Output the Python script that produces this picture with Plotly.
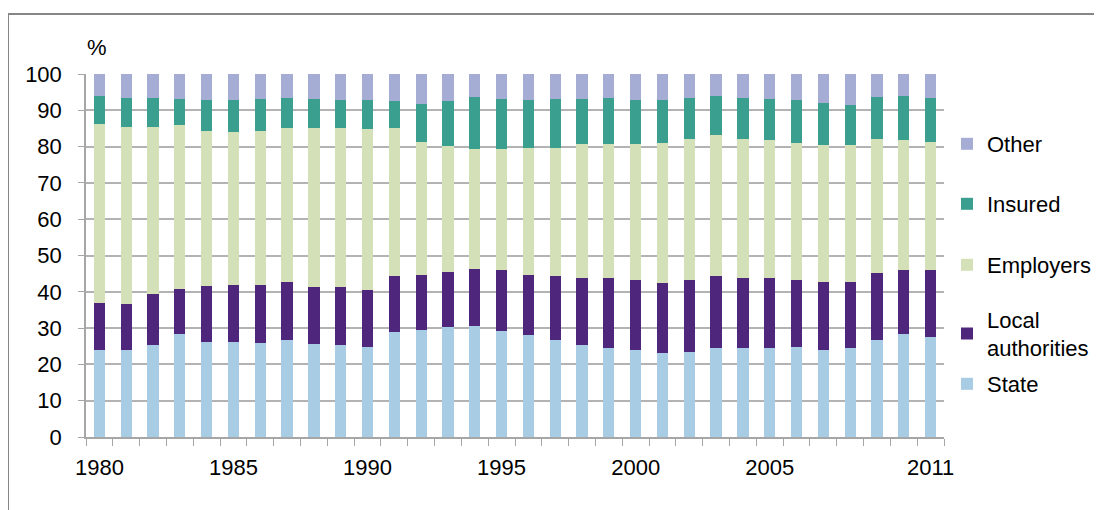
import plotly.graph_objects as go

years = [str(y) for y in range(1980, 2012)]
tick_labels = {"1980": "1980", "1985": "1985", "1990": "1990", "1995": "1995",
               "2000": "2000", "2005": "2005", "2011": "2011"}

state = [23.9, 23.9, 25.4, 28.5, 26.3, 26.3, 26.0, 26.6, 25.7, 25.4,
         24.8, 28.8, 29.4, 30.4, 30.6, 29.1, 28.2, 26.6, 25.4, 24.5,
         23.9, 23.2, 23.5, 24.5, 24.5, 24.5, 24.8, 24.1, 24.5, 26.6,
         28.5, 27.6]
local_authorities = [13.0, 12.7, 14.0, 12.4, 15.3, 15.5, 15.8, 16.2, 15.5, 15.8,
                     15.8, 15.5, 15.2, 15.1, 15.8, 16.8, 16.4, 17.7, 18.3, 19.2,
                     19.4, 19.2, 19.8, 19.8, 19.4, 19.2, 18.5, 18.7, 18.3, 18.7,
                     17.6, 18.5]
employers = [49.3, 48.7, 45.9, 45.1, 42.8, 42.3, 42.6, 42.2, 43.8, 43.8,
             44.2, 40.7, 36.7, 34.6, 33.0, 33.5, 35.1, 35.4, 36.9, 36.9,
             37.3, 38.6, 38.9, 38.8, 38.3, 38.0, 37.7, 37.6, 37.6, 36.9,
             35.6, 35.2]
insured = [7.8, 8.1, 8.1, 7.1, 8.4, 8.7, 8.7, 8.4, 8.1, 7.8,
           8.0, 7.5, 10.5, 12.4, 14.3, 13.7, 13.1, 13.4, 12.5, 12.8,
           12.2, 11.8, 11.2, 10.9, 11.2, 11.4, 11.8, 11.7, 11.1, 11.5,
           12.3, 12.1]
other = [6.0, 6.6, 6.6, 6.9, 7.2, 7.2, 6.9, 6.6, 6.9, 7.2,
         7.2, 7.5, 8.2, 7.5, 6.3, 6.9, 7.2, 6.9, 6.9, 6.6,
         7.2, 7.2, 6.6, 6.0, 6.6, 6.9, 7.2, 7.9, 8.5, 6.3,
         6.0, 6.6]

series = [
    ("State", state, "#a8cce3", "legend5"),
    ("Local<br>authorities", local_authorities, "#4e277c", "legend4"),
    ("Employers", employers, "#d4e1b8", "legend3"),
    ("Insured", insured, "#3a9f8f", "legend2"),
    ("Other", other, "#a6add5", "legend"),
]

FONT = "Liberation Sans, Arial, sans-serif"
fig = go.Figure()
for name, vals, color, lg in series:
    fig.add_trace(go.Bar(x=years, y=vals, name=name, marker_color=color,
                         marker_line_width=0, legend=lg))

# page body has an 8px margin: figure drawn 8px in from the top-left corner
OFF = 8
W, H = 1102, 510
PL, PT, PR, PB = 86, 74, 944, 437  # plot area in window pixels
pw, ph = PR - PL, PB - PT
margin = dict(l=PL - OFF, t=PT - OFF, r=W - (PR - OFF), b=H - (PB - OFF))

def px_x(x):
    return (x - PL) / pw

def px_y(y):
    return (PB - y) / ph

leg_common = dict(x=px_x(947), xanchor="left", bgcolor="rgba(0,0,0,0)",
                  font=dict(family=FONT, size=22, color="#000000"), borderwidth=0)
legend_pos = {"legend": 144, "legend2": 204, "legend3": 265, "legend4": 334, "legend5": 384}
layout_legends = {}
for k, yp in legend_pos.items():
    layout_legends[k] = dict(leg_common, y=px_y(yp), yanchor="middle", valign="middle")

fig.update_layout(
    width=W, height=H,
    margin=margin,
    barmode="stack", bargap=0.58,
    plot_bgcolor="white", paper_bgcolor="white",
    font=dict(family=FONT, size=22, color="#000000"),
    showlegend=True,
    **layout_legends,
)
fig.update_xaxes(
    type="category", tickvals=years,
    ticktext=[tick_labels.get(y, "") for y in years],
    tickson="boundaries", ticks="outside", ticklen=7, tickcolor="#a6a6a6",
    showline=True, linecolor="#a6a6a6", linewidth=1.5, showgrid=False,
    ticklabelstandoff=10, tickangle=0,
    tickfont=dict(family=FONT, size=22, color="#000000"),
)
fig.update_yaxes(
    range=[0, 100], tickvals=list(range(0, 101, 10)),
    ticks="outside", ticklen=6, tickcolor="#a6a6a6",
    showline=True, linecolor="#a6a6a6", linewidth=1.5,
    showgrid=True, gridcolor="#b3b3b3", gridwidth=1.5,
    ticklabelstandoff=12, zeroline=False,
    tickfont=dict(family=FONT, size=22, color="#000000"),
)
fig.add_annotation(text="%", xref="paper", yref="paper", x=px_x(97), y=px_y(47),
                   showarrow=False, font=dict(family=FONT, size=22, color="#000000"),
                   xanchor="center", yanchor="middle")
fig.add_shape(type="rect", xref="paper", yref="paper",
              x0=px_x(8), x1=px_x(1300), y0=px_y(700), y1=px_y(14),
              line=dict(color="#868686", width=2), fillcolor="rgba(0,0,0,0)", layer="above")

fig.write_html("out.html")
